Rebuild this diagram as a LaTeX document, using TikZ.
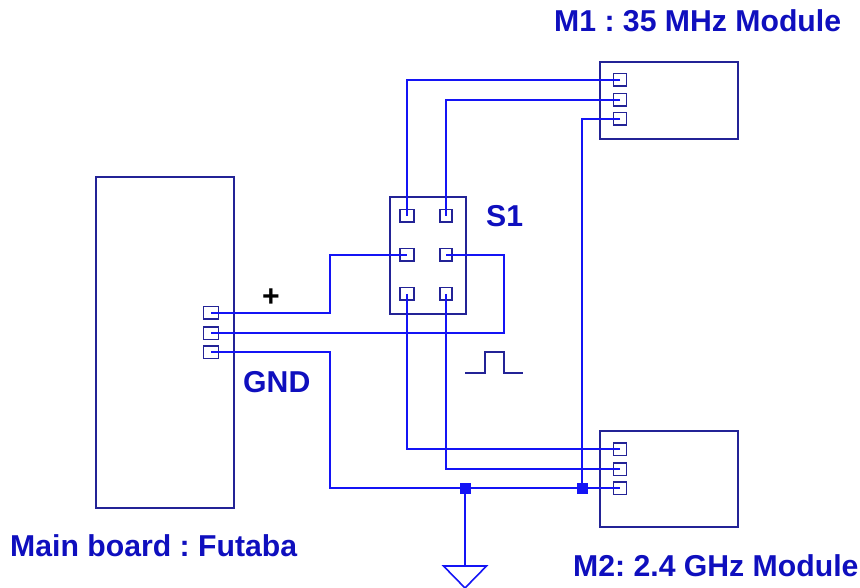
\documentclass[tikz,border=0pt]{standalone}
\usepackage{fontspec}
\setmainfont{Liberation Sans}
\definecolor{wireblue}{RGB}{20,20,245}
\definecolor{boxblue}{RGB}{35,35,150}
\definecolor{textblue}{RGB}{15,15,190}
\tikzset{
  board/.style={draw=boxblue, line width=1.6pt, outer sep=0pt, minimum width=#1, inner sep=0pt, anchor=north west},
  pin/.style={draw=boxblue, line width=1.5pt, minimum width=#1, minimum height=12.5pt, inner sep=0pt},
  wire/.style={draw=wireblue, line width=1.6pt},
  junction/.style={fill=wireblue, minimum size=11pt, inner sep=0pt},
  lbl/.style={text=textblue, font=\bfseries\fontsize{30.2}{34}\selectfont, inner sep=0pt, anchor=base west},
}
\begin{document}
\frenchspacing
\begin{tikzpicture}[x=1pt,y=-1pt]
\useasboundingbox (0,0) rectangle (860,588);

\node [board=138pt, minimum height=331pt] (main) at (96,177) {};
\node [board=138pt, minimum height=77pt] (mone) at (600,62) {};
\node [board=138pt, minimum height=96pt] (mtwo) at (600,431) {};
\node [board=76pt, minimum height=117pt] (sone) at (390,197) {};

\foreach \n/\y in {a/313,b/333,c/352} {\node [pin=15pt] (main\n) at (211,\y) {};}
\foreach \n/\y in {a/80,b/100,c/119} {\node [pin=13pt] (mone\n) at (620,\y) {};}
\foreach \n/\y in {a/449,b/469,c/488} {\node [pin=13pt] (mtwo\n) at (620,\y) {};}
\foreach \n/\x/\w in {l/407/14pt,r/446/12pt} {
  \foreach \m/\y in {t/216,m/255,b/294} {\node [pin=\w] (s\m\n) at (\x,\y) {};}
}

\node [junction] (jone) at (465,488) {};
\node [junction] (jtwo) at (582,488) {};
\coordinate (gnd) at (465,566);
\coordinate (wa) at (330,488);

\draw [wire] (monea.center) -| (stl.center);
\draw [wire] (moneb.center) -| (str.center);
\draw [wire] (monec.center) -| (jtwo.center);
\draw [wire] (mainb.center) -| (504,255) -- (smr.center);
\draw [wire] (maina.center) -| (330,255) -- (sml.center);
\draw [wire] (mainc.center) -| (wa) -- (jone.center) -- (jtwo.center) -- (mtwoc.center);
\draw [wire] (sbl.center) |- (mtwoa.center);
\draw [wire] (sbr.center) |- (mtwob.center);
\draw [wire] (jone.center) -- (gnd);

\draw [wire] ([xshift=-21.5pt]gnd) -- ([xshift=21.5pt]gnd) -- ([yshift=-22pt]gnd) -- cycle;

\draw [boxblue, line width=1.5pt] (465,373) -- (485,373) -- (485,352) -- (504,352) -- (504,373) -- (523,373);

\node [lbl] (mlabel) at (554,32) {M1 : 35 MHz Module};
\node [lbl] (slabel) at (486,227) {S1};
\node [lbl] (glabel) at (243,392) {GND};
\node [lbl] (blabel) at (10,556) {Main board : Futaba};
\node [lbl] (tlabel) at (573,576) {M2: 2.4 GHz Module};
\node [lbl, text=black] (plus) at (262,307) {+};

\end{tikzpicture}
\end{document}
